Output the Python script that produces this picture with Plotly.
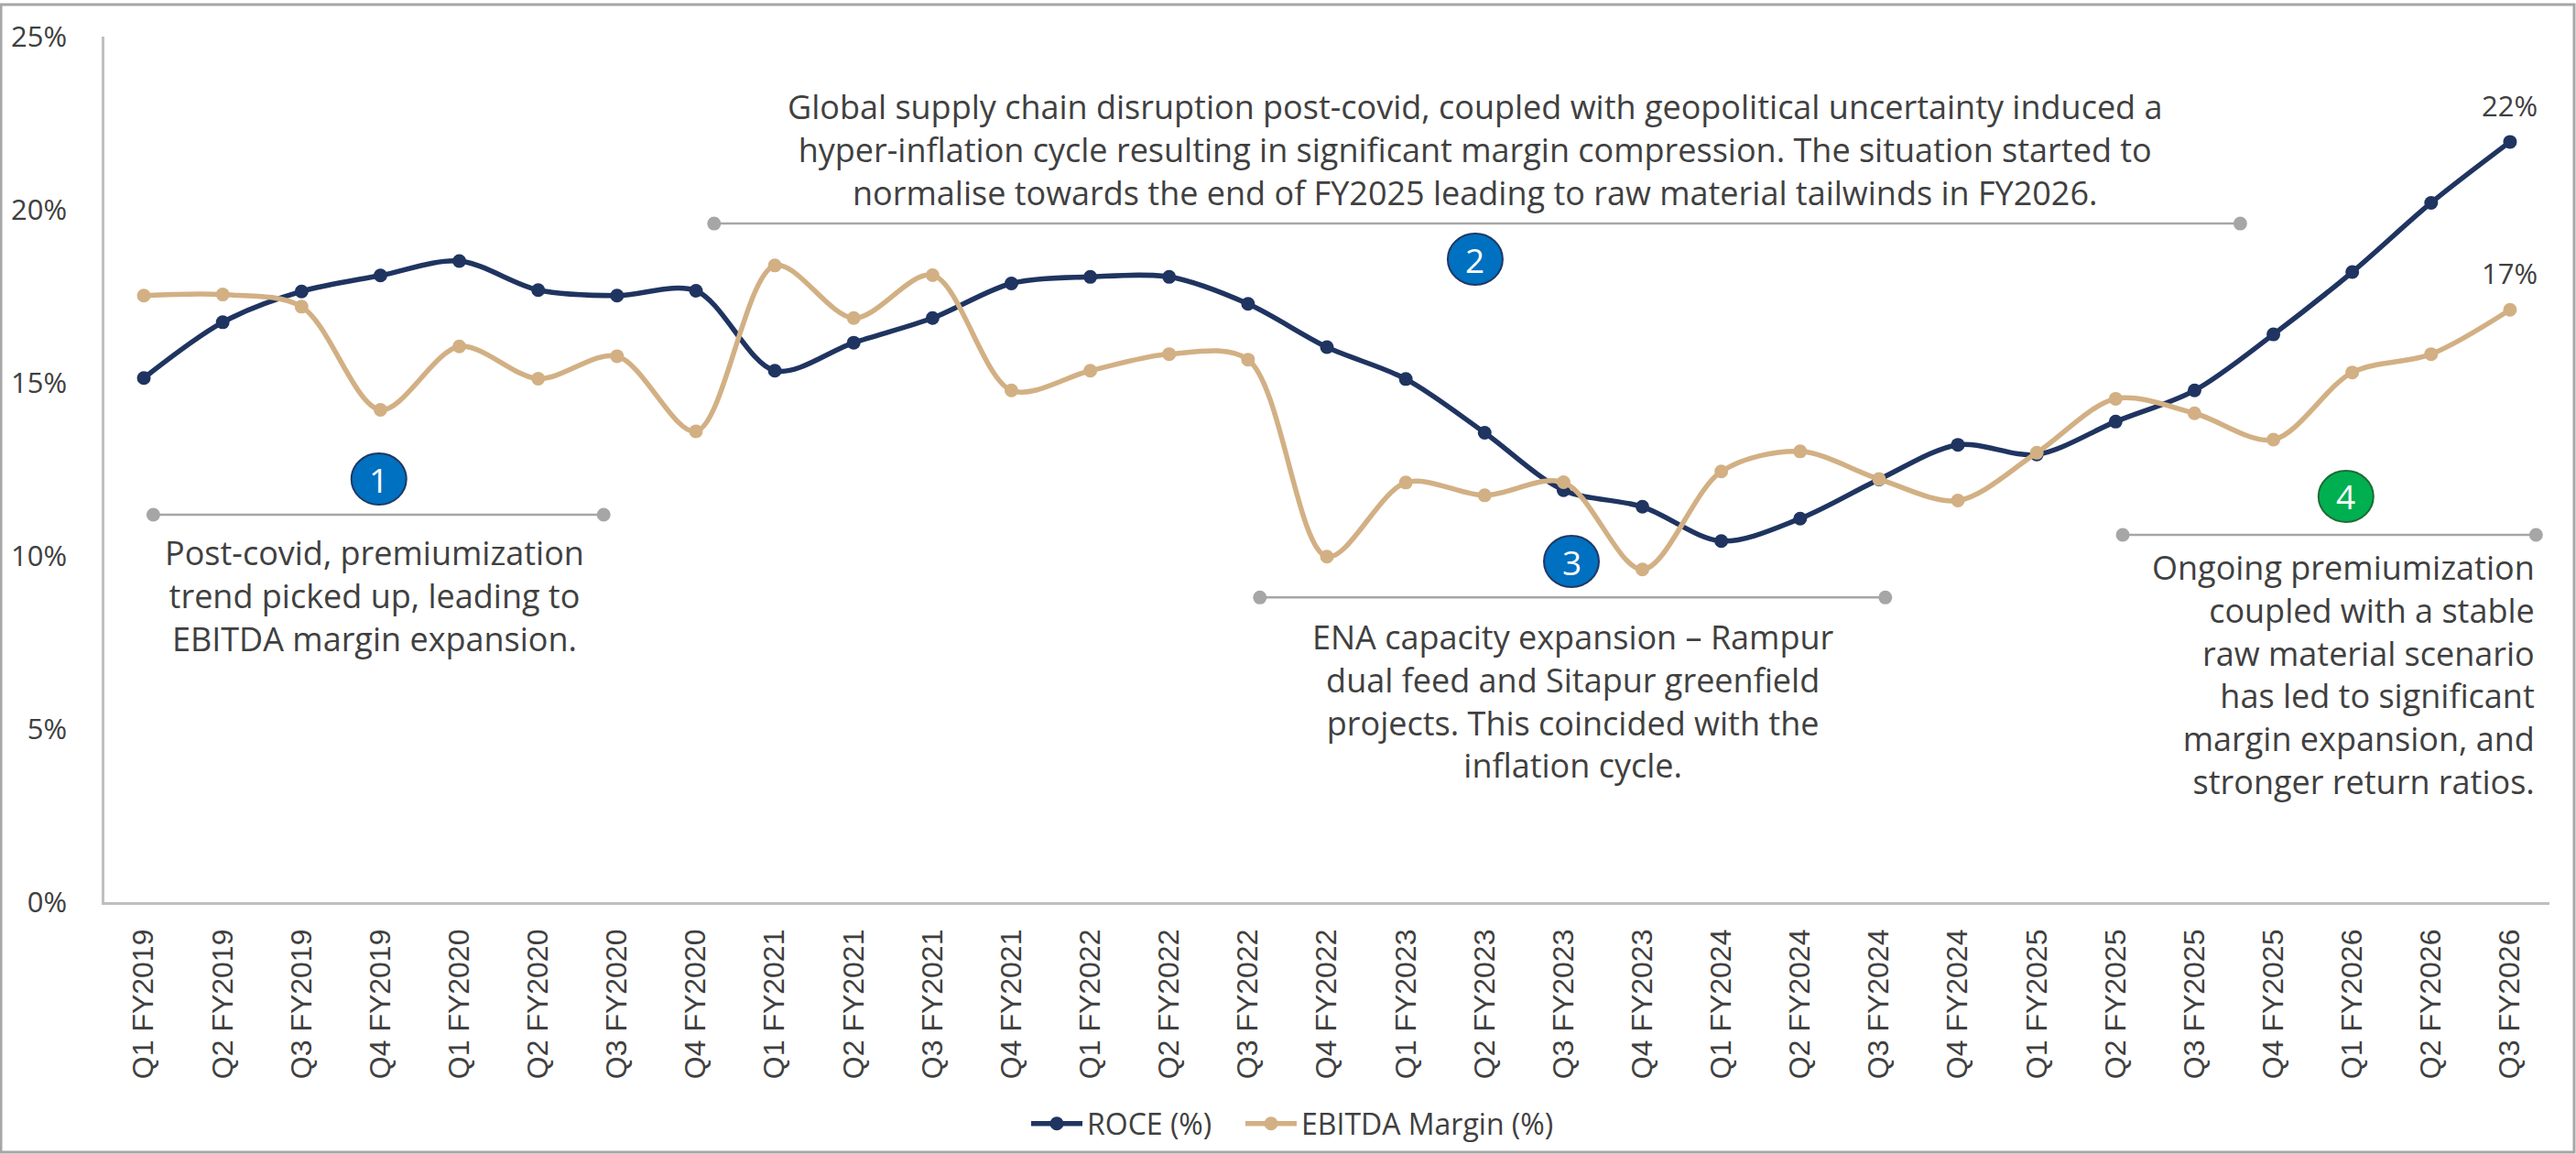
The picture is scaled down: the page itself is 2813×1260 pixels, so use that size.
import plotly.graph_objects as go

quarters = ["Q1 FY2019","Q2 FY2019","Q3 FY2019","Q4 FY2019",
            "Q1 FY2020","Q2 FY2020","Q3 FY2020","Q4 FY2020",
            "Q1 FY2021","Q2 FY2021","Q3 FY2021","Q4 FY2021",
            "Q1 FY2022","Q2 FY2022","Q3 FY2022","Q4 FY2022",
            "Q1 FY2023","Q2 FY2023","Q3 FY2023","Q4 FY2023",
            "Q1 FY2024","Q2 FY2024","Q3 FY2024","Q4 FY2024",
            "Q1 FY2025","Q2 FY2025","Q3 FY2025","Q4 FY2025",
            "Q1 FY2026","Q2 FY2026","Q3 FY2026"]

roce = [15.14, 16.75, 17.64, 18.10, 18.52, 17.68, 17.52, 17.66,
        15.35, 16.16, 16.87, 17.87, 18.06, 18.06, 17.28, 16.03,
        15.11, 13.56, 11.90, 11.42, 10.43, 11.08, 12.21, 13.21,
        12.93, 13.88, 14.78, 16.40, 18.20, 20.20, 21.96]

ebitda = [17.52, 17.55, 17.20, 14.22, 16.05, 15.12, 15.77, 13.60,
          18.39, 16.87, 18.11, 14.78, 15.35, 15.83, 15.67, 9.98,
          12.12, 11.75, 12.13, 9.61, 12.44, 13.02, 12.22, 11.60,
          12.98, 14.54, 14.12, 13.36, 15.30, 15.83, 17.11]

y_ticks = [0, 5, 10, 15, 20, 25]
y_ticktext = ["0%", "5%", "10%", "15%", "20%", "25%"]

note_labels = ["1", "2", "3", "4"]
note_texts = [
    ["Post-covid, premiumization", "trend picked up, leading to", "EBITDA margin expansion."],
    ["Global supply chain disruption post-covid, coupled with geopolitical uncertainty induced a",
     "hyper-inflation cycle resulting in significant margin compression. The situation started to",
     "normalise towards the end of FY2025 leading to raw material tailwinds in FY2026."],
    ["ENA capacity expansion – Rampur", "dual feed and Sitapur greenfield",
     "projects. This coincided with the", "inflation cycle."],
    ["Ongoing premiumization", "coupled with a stable", "raw material scenario",
     "has led to significant", "margin expansion, and", "stronger return ratios."],
]

# layout of callouts: circle centre, bar extents, text block anchor (middle), align, colours
note_layout = [
    dict(cx=2.98, cy=12.22, bx0=0.12, bx1=5.83, by=11.19, tx=2.93, ty=8.85,
         align="center", fill="#0070C0", edge="#1F3864"),
    dict(cx=16.88, cy=18.57, bx0=7.23, bx1=26.58, by=19.6, tx=16.88, ty=21.72,
         align="center", fill="#0070C0", edge="#1F3864"),
    dict(cx=18.1, cy=9.84, bx0=14.15, bx1=22.08, by=8.80, tx=18.12, ty=5.80,
         align="center", fill="#0070C0", edge="#1F3864"),
    dict(cx=27.92, cy=11.72, bx0=25.09, bx1=30.33, by=10.61, tx=30.32, ty=6.58,
         align="right", fill="#00B050", edge="#1E6B34"),
]

x_idx = list(range(len(quarters)))

W, H = 2813, 1260
L, T = 114, 40
R = 29
B = H - 985
pw = W - L - R
ph = H - T - B
x_unit = pw / 31.0
y_unit = ph / 25.0

NAVY = "#1F3460"
TAN = "#D2B084"
TXT = "#404040"

fig = go.Figure()
fig.add_trace(go.Scatter(
    x=x_idx, y=roce, name="ROCE (%)", mode="lines+markers", legend="legend",
    line=dict(color=NAVY, width=5.5, shape="spline", smoothing=0.9),
    marker=dict(size=15, color=NAVY),
))
fig.add_trace(go.Scatter(
    x=x_idx, y=ebitda, name="EBITDA Margin (%)", mode="lines+markers", legend="legend2",
    line=dict(color=TAN, width=5.5, shape="spline", smoothing=0.9),
    marker=dict(size=15, color=TAN),
))

shapes = []
annotations = []

# end-point data labels
for series in (roce, ebitda):
    annotations.append(dict(x=x_idx[-1], y=series[-1], xref="x", yref="y",
                            text=f"{round(series[-1])}%", showarrow=False,
                            yshift=40, xanchor="center", yanchor="middle",
                            font=dict(family="Open Sans", size=31, color=TXT)))

for lab, lines, nl in zip(note_labels, note_texts, note_layout):
    shapes.append(dict(type="line", xref="x", yref="y", x0=nl["bx0"], x1=nl["bx1"],
                       y0=nl["by"], y1=nl["by"],
                       line=dict(color="#A6A6A6", width=2.5), layer="above"))
    rx = 7.5 / x_unit
    ry = 7.5 / y_unit
    for bx in (nl["bx0"], nl["bx1"]):
        shapes.append(dict(type="circle", xref="x", yref="y",
                           x0=bx - rx, x1=bx + rx, y0=nl["by"] - ry, y1=nl["by"] + ry,
                           fillcolor="#A6A6A6", line=dict(width=0), layer="above"))
    ex = 30 / x_unit
    ey = 28 / y_unit
    shapes.append(dict(type="circle", xref="x", yref="y",
                       x0=nl["cx"] - ex, x1=nl["cx"] + ex, y0=nl["cy"] - ey, y1=nl["cy"] + ey,
                       fillcolor=nl["fill"], line=dict(color=nl["edge"], width=2), layer="above"))
    annotations.append(dict(x=nl["cx"], y=nl["cy"], xref="x", yref="y", text=lab, showarrow=False,
                            font=dict(family="Open Sans", size=37, color="white"),
                            xanchor="center", yanchor="middle"))
    annotations.append(dict(x=nl["tx"], y=nl["ty"], xref="x", yref="y", text="<br>".join(lines),
                            showarrow=False, borderpad=0,
                            font=dict(family="Open Sans", size=36, color=TXT),
                            xanchor="center" if nl["align"] == "center" else "right",
                            yanchor="middle", align=nl["align"]))

# outer chart border
px0 = (1 - L) / pw
px1 = (2811 - L) / pw
py1 = (H - B - 5) / ph
py0 = (H - B - 1258) / ph
shapes.append(dict(type="rect", xref="paper", yref="paper", x0=px0, x1=px1, y0=py0, y1=py1,
                   line=dict(color="#A6A6A6", width=3), fillcolor="rgba(0,0,0,0)", layer="below"))

legend_common = dict(orientation="h", xref="container", yref="container",
                     y=1 - 1227 / H, xanchor="left", yanchor="middle",
                     font=dict(family="Open Sans", size=32, color=TXT),
                     itemwidth=56, bgcolor="rgba(0,0,0,0)")

fig.update_layout(
    width=W, height=H,
    margin=dict(l=L, r=R, t=T, b=B, pad=0),
    paper_bgcolor="white", plot_bgcolor="white",
    shapes=shapes, annotations=annotations,
    showlegend=True,
    legend=dict(x=1121 / W, **legend_common),
    legend2=dict(x=1355 / W, **legend_common),
    xaxis=dict(range=[-0.5, 30.5], tickmode="array", tickvals=x_idx, ticktext=quarters,
               tickangle=-90, showgrid=False, zeroline=False,
               showline=True, linecolor="#BFBFBF", linewidth=2.5,
               ticks="", ticklabelstandoff=14,
               tickfont=dict(family="Liberation Sans", size=32, color=TXT)),
    yaxis=dict(range=[0, 25], tickmode="array", tickvals=y_ticks, ticktext=y_ticktext,
               showgrid=False, zeroline=False,
               showline=True, linecolor="#BFBFBF", linewidth=2.5,
               ticks="", ticklabelstandoff=32,
               tickfont=dict(family="Open Sans", size=31, color=TXT)),
)

fig.write_html("out.html", config={"displayModeBar": False})

# remove the browser's default page margin so the figure sits at the window origin
with open("out.html", "r", encoding="utf-8") as f:
    html = f.read()
html = html.replace("<head>", "<head><style>html,body{margin:0;padding:0;}</style>", 1)
with open("out.html", "w", encoding="utf-8") as f:
    f.write(html)
